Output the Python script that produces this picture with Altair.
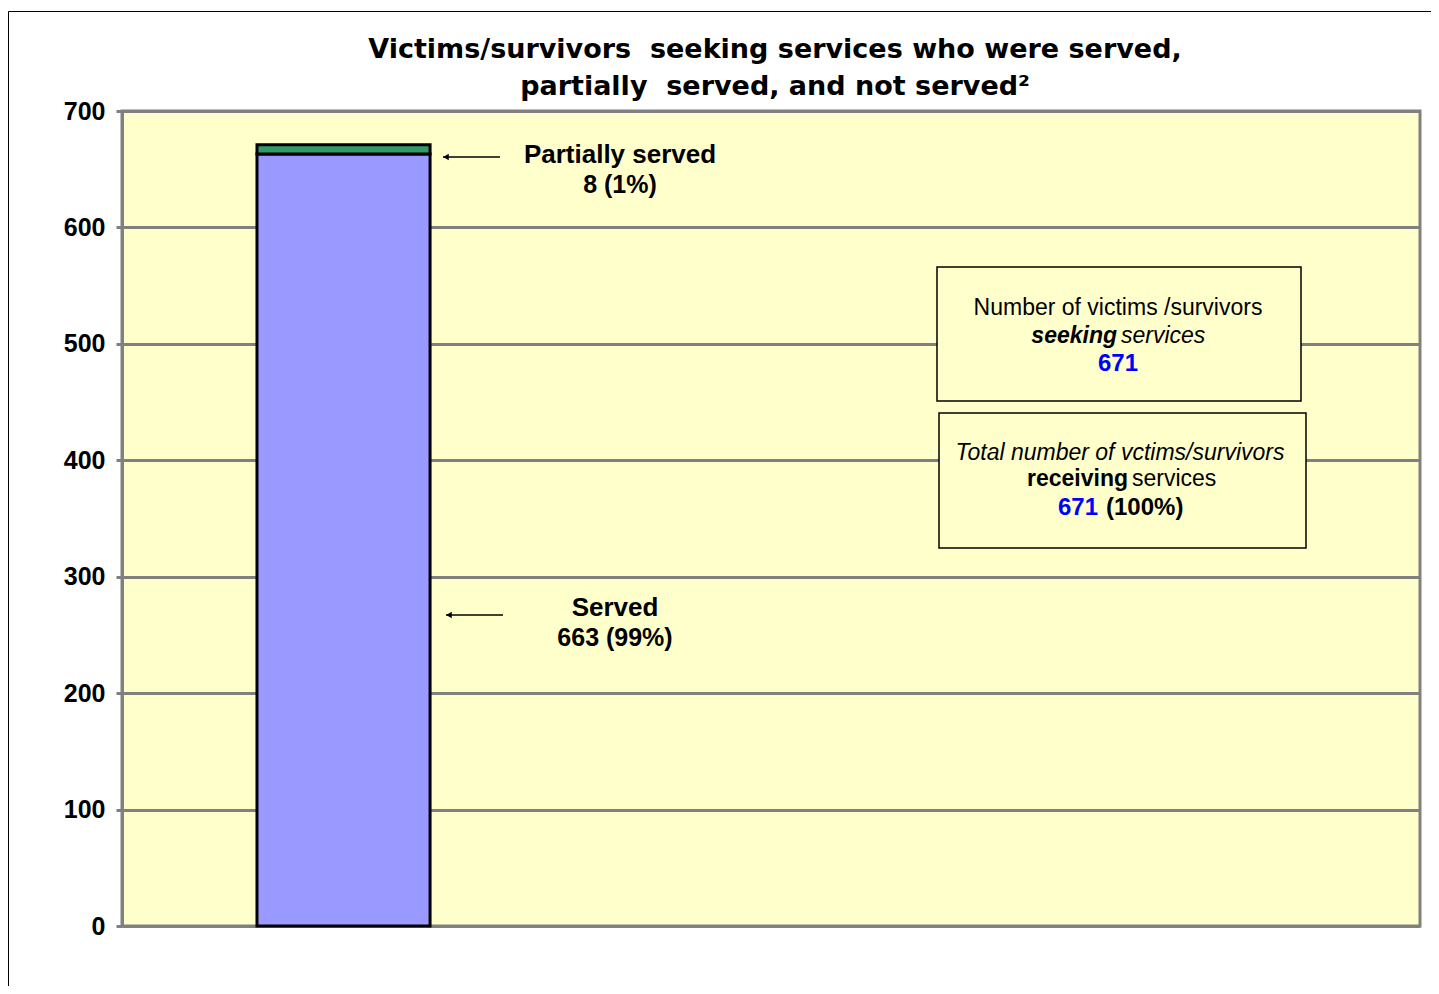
import altair as alt
import pandas as pd

# ---- data ----
categories = ["Victims/survivors"]
slots = ["Victims/survivors", "slot2", "slot3"]
segments = ["Served", "Partially served"]
values = [663, 8]
percents = ["99%", "1%"]
seg_order = [1, 2]
seg_colors = ["#9999FF", "#339966"]
total_seeking = 671
total_receiving = 671
receiving_pct = "100%"
y_ticks = [0, 100, 200, 300, 400, 500, 600, 700]
title_lines = ["Victims/survivors\u00a0 seeking services who were served,",
               "partially\u00a0 served, and not served²"]

df = pd.DataFrame({
    "cat": [categories[0]] * len(segments),
    "segment": segments,
    "value": values,
    "ord": seg_order,
})

FONT = "Liberation Sans"
TFONT = "DejaVu Sans"
one = alt.Data(values=[{"k": 1}])

bars = alt.Chart(df).mark_bar(stroke="black", strokeWidth=3).encode(
    x=alt.X("cat:N", scale=alt.Scale(domain=slots, paddingInner=0.6, paddingOuter=0.3, align=0.52),
            axis=None),
    y=alt.Y("value:Q", stack="zero",
            scale=alt.Scale(domain=[0, 700], nice=False),
            axis=alt.Axis(values=y_ticks, title=None, grid=True, gridColor="#808080", gridWidth=3,
                          domainColor="#808080", domainWidth=3, tickColor="#808080", tickWidth=3,
                          tickSize=6, labelPadding=11, labelFont=FONT, labelFontSize=25,
                          labelFontWeight="bold", labelColor="black")),
    color=alt.Color("segment:N", scale=alt.Scale(domain=segments, range=seg_colors), legend=None),
    order=alt.Order("ord:Q"),
)

def txt(s, x, y, size=25, weight="bold", style="normal", color="black", align="center", font=FONT):
    return alt.Chart(one).mark_text(font=font, fontSize=size, fontWeight=weight, fontStyle=style,
                                    color=color, align=align, baseline="middle").encode(
        x=alt.value(x), y=alt.value(y), text=alt.value(s))

def arrow(x1, x2, y):
    line = alt.Chart(one).mark_rule(color="black", strokeWidth=1.5).encode(
        x=alt.value(x1), x2=alt.value(x2), y=alt.value(y))
    head = alt.Chart(one).mark_point(shape="triangle-left", filled=True, color="black",
                                     size=40, opacity=1).encode(x=alt.value(x1 + 3), y=alt.value(y))
    return line + head

def box(x1, x2, y1, y2):
    return alt.Chart(one).mark_rect(fill="#FFFFCC", stroke="black", strokeWidth=1.5).encode(
        x=alt.value(x1), x2=alt.value(x2), y=alt.value(y1), y2=alt.value(y2))

frame = alt.Chart(one).mark_rect(fillOpacity=0, stroke="black", strokeWidth=1).encode(
    x=alt.value(-113.5), x2=alt.value(1400), y=alt.value(-99.5), y2=alt.value(1000))

layers = [
    frame,
    bars,
    txt(title_lines[0], 653, -61, size=27, font=TFONT),
    txt(title_lines[1], 653, -24, size=27, font=TFONT),
    arrow(321, 378, 46),
    txt(segments[1], 498, 44, size=26),
    txt(f"{values[1]} ({percents[1]})", 498, 74),
    arrow(324, 381, 504),
    txt(segments[0], 493, 497, size=26),
    txt(f"{values[0]} ({percents[0]})", 493, 527),
    box(815, 1179, 156, 290),
    txt("Number of victims /survivors", 996, 197, size=23, weight="normal"),
    txt("seeking", 995, 225, size=23, weight="bold", style="italic", align="right"),
    txt("services", 999, 225, size=23, weight="normal", style="italic", align="left"),
    txt(str(total_seeking), 996, 253, size=24, weight="bold", color="#0000FF"),
    box(817, 1184, 302, 437),
    txt("Total number of vctims/survivors", 998, 342, size=23, weight="normal", style="italic"),
    txt("receiving", 1006, 368, size=23, weight="bold", align="right"),
    txt("services", 1010, 368, size=23, weight="normal", align="left"),
    txt(str(total_receiving), 976, 397, size=24, weight="bold", color="#0000FF", align="right"),
    txt(f"({receiving_pct})", 984, 397, size=24, weight="bold", align="left"),
]

chart = alt.layer(*layers).properties(
    width=1298, height=815,
    autosize=alt.AutoSizeParams(type="none"),
    padding={"left": 114, "top": 103, "right": 11, "bottom": 60},
).configure(background="white").configure_view(fill="#FFFFCC", stroke="#808080", strokeWidth=3)

chart.save("out.html", embed_options={"renderer": "svg", "actions": False})
